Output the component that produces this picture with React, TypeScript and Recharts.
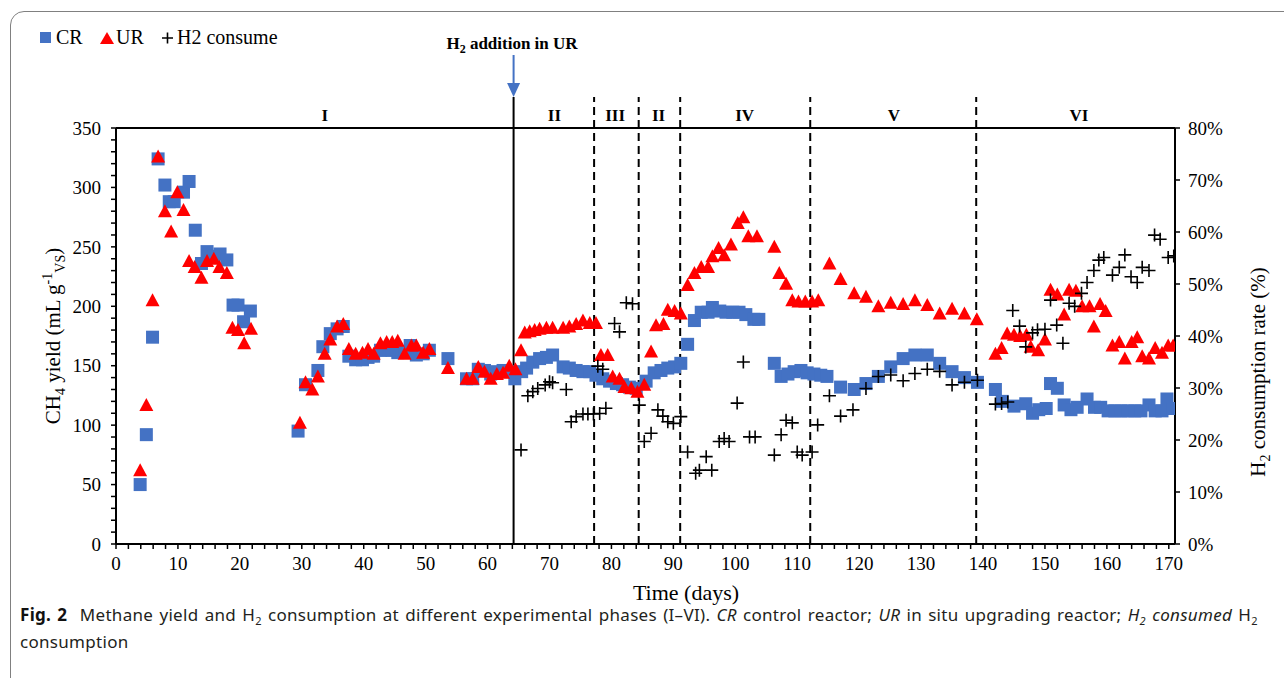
import { ScatterChart, Scatter, XAxis, YAxis, ReferenceLine } from 'recharts';

// CR control reactor: day / methane yield (mL g-1 VS)
const crDays = [3.9, 4.9, 5.9, 6.8, 7.9, 8.6, 9.4, 10.9, 11.8, 12.8, 13.8, 14.7, 15.8, 16.8, 17.9, 18.9, 19.7, 20.6, 21.7,
  29.4, 30.6, 32.6, 33.4, 34.6, 35.7, 36.7, 37.6, 38.7, 39.8, 40.7, 41.6, 42.7, 43.7, 44.6, 45.5, 46.6, 47.5, 48.5, 49.6, 50.6, 53.6,
  56.6, 57.6, 58.5, 59.5, 60.5, 61.6, 62.5, 63.4, 64.4, 65.5, 66.3, 67.3, 68.4, 69.5, 70.5, 72.2, 73.2, 74.3, 75.4, 76.5, 77.5,
  78.6, 79.7, 80.8, 81.8, 82.9, 84.0, 85.6, 86.9, 88.0, 89.1, 90.2, 91.2, 92.3, 93.4, 94.5, 95.6, 96.3, 97.5, 98.5, 99.6, 100.6,
  101.7, 103.0, 103.8, 106.3, 107.4, 108.5, 109.5, 110.6, 111.6, 112.7, 113.8, 114.8, 117.0, 119.2, 121.1, 123.1, 125.1, 127.1,
  129.0, 131.0, 133.0, 135.0, 137.0, 139.1, 142.0, 143.1, 145.0, 146.9, 148.0, 149.0, 150.2, 150.9, 152.0, 153.1, 154.2, 155.2,
  156.8, 158.0, 159.0, 160.2, 161.3, 162.3, 163.4, 164.5, 165.5, 166.8, 167.8, 168.9, 169.7, 170.6];
const crYield = [50, 92, 174, 324, 302, 288, 288, 296, 305, 264, 236, 246, 242, 244, 239, 201, 201, 187, 196,
  95, 134, 146, 166, 177, 181, 183, 158, 155, 155, 157, 158, 163, 163, 163, 161, 162, 167, 159, 160, 163, 156,
  139, 139, 147, 146, 143, 145, 146, 145, 139, 145, 148, 153, 156, 157, 159, 149, 148, 146, 145, 145, 142,
  139, 137, 135, 134, 132, 131, 137, 144, 146, 148, 149, 152, 168, 188, 195, 195, 199, 196, 195, 195, 195,
  193, 189, 189, 152, 141, 143, 145, 146, 144, 143, 142, 141, 132, 130, 135, 141, 149, 156,
  159, 159, 152, 145, 140, 136, 130, 120, 116, 118, 110, 113, 114, 135, 131, 117, 113, 115,
  122, 115, 115, 112, 112, 112, 112, 112, 112, 117, 112, 112, 122, 114];

// UR in situ upgrading reactor: day / methane yield
const urDays = [3.9, 4.9, 5.9, 6.8, 7.9, 8.9, 9.9, 10.9, 11.8, 12.7, 13.8, 14.7, 15.8, 16.7, 17.9, 18.8, 19.7, 20.7, 21.8,
  29.7, 30.6, 31.7, 32.6, 33.7, 34.6, 35.7, 36.7, 37.6, 38.7, 39.8, 40.7, 41.6, 42.7, 43.7, 44.6, 45.5, 46.6, 47.7, 48.5, 49.6, 50.6,
  53.6, 56.6, 57.6, 58.5, 59.5, 60.5, 61.5, 62.5, 63.5, 64.5, 65.4, 66.0, 66.8, 67.6, 68.4, 69.5, 70.5, 72.2, 73.2, 74.3, 75.4,
  76.5, 77.5, 78.3, 79.4, 80.2, 81.3, 82.1, 83.2, 84.2, 85.3, 86.4, 87.2, 88.4, 89.1, 90.2, 91.2, 92.3, 93.4, 94.5, 95.6, 96.3,
  97.3, 98.2, 99.3, 100.4, 101.3, 102.1, 103.5, 106.3, 107.1, 108.2, 109.2, 110.2, 111.3, 112.4, 113.4, 115.2, 117.0, 119.2,
  121.1, 123.1, 125.1, 127.1, 129.0, 131.0, 133.0, 135.0, 137.0, 139.0, 142.0, 143.0, 143.9, 145.0, 146.0, 147.0, 147.7, 148.9,
  150.0, 150.9, 152.0, 153.1, 153.9, 155.0, 156.0, 157.2, 157.9, 158.9, 159.8, 160.9, 162.0, 162.9, 164.0, 164.9, 165.7, 166.8,
  167.8, 168.9, 169.9, 170.7];
const urYield = [62, 117, 205, 326, 280, 263, 296, 281, 238, 233, 224, 238, 240, 233, 228, 182, 180, 169, 181,
  102, 136, 130, 141, 160, 172, 183, 185, 164, 160, 161, 164, 160, 169, 170, 170, 171, 160, 167, 167, 161, 164,
  148, 139, 139, 149, 145, 139, 143, 144, 150, 147, 163, 178, 179, 180, 181, 182, 182, 182, 183, 185, 188,
  186, 186, 159, 159, 141, 139, 132, 131, 128, 134, 162, 184, 185, 197, 196, 194, 218, 228, 233, 233, 242,
  249, 243, 252, 270, 275, 259, 259, 250, 228, 219, 205, 204, 204, 204, 205, 236, 223, 211,
  208, 200, 203, 202, 205, 201, 194, 198, 194, 189, 160, 165, 177, 176, 175, 176, 166, 163,
  172, 214, 210, 193, 214, 213, 200, 200, 183, 202, 196, 167, 170, 156, 170, 174, 158, 156,
  165, 161, 167, 167];

// H2 consume: day / consumption rate (%)
const h2Days = [65.4, 66.5, 67.3, 68.1, 69.3, 70.0, 70.5, 72.7, 73.5, 74.3, 75.4, 76.2, 77.1, 77.8, 78.1, 78.6, 79.1,
  80.5, 81.3, 82.4, 83.4, 84.5, 85.3, 86.4, 87.5, 88.3, 89.1, 90.0, 91.2, 92.3, 93.6, 94.2, 95.3, 96.2, 97.4, 98.2, 99.0,
  100.3, 101.3, 102.3, 103.2, 106.3, 107.4, 108.2, 109.2, 110.0, 110.8, 112.4, 113.3, 115.2, 117.0, 119.0, 121.1, 123.1,
  125.1, 127.1, 129.0, 131.0, 133.0, 135.0, 137.0, 139.1, 142.0, 143.0, 144.0, 144.8, 145.9, 146.9, 148.0, 148.8, 150.0,
  150.9, 151.9, 152.9, 153.9, 154.8, 155.9, 156.8, 157.9, 158.7, 159.5, 160.9, 162.0, 162.9, 163.9, 164.9, 165.7, 166.8,
  167.7, 168.6, 169.9, 170.8];
const h2Rate = [18.1, 28.5, 29.3, 29.9, 30.6, 31.2, 31.0, 29.7, 23.5, 24.5, 25.0, 25.0, 25.0, 34.2, 25.1, 33.6, 26.1,
  42.4, 40.8, 46.4, 46.2, 26.7, 19.7, 21.3, 25.8, 24.6, 23.5, 23.2, 24.5, 17.7, 13.6, 14.2, 16.8, 14.2, 19.7, 20.3, 19.7,
  27.1, 35.0, 20.6, 20.6, 17.1, 21.0, 23.8, 23.3, 17.7, 17.1, 17.7, 22.9, 28.5, 24.6, 25.8, 29.9, 32.2,
  32.5, 31.4, 32.8, 33.6, 33.2, 30.6, 31.1, 31.5, 26.9, 27.0, 27.3, 44.9, 41.9, 37.9, 40.6, 41.2, 41.3,
  46.9, 42.1, 38.6, 46.3, 45.7, 48.2, 50.3, 52.6, 54.6, 55.1, 51.7, 53.2, 55.6, 51.4, 50.3, 53.2, 52.6,
  59.4, 58.6, 55.1, 55.4];

// phase boundaries (days) and phase labels
const phaseLines = [64.2, 77.2, 84.4, 91.1, 112.1, 138.9];
const phaseNames = ['I', 'II', 'III', 'II', 'IV', 'V', 'VI'];
const phaseCenters = [33.7, 70.8, 80.6, 87.6, 101.5, 125.6, 155.5];

const xTicks = Array.from({ length: 86 }, (_, i) => i * 2);
const yTicks = Array.from({ length: 36 }, (_, i) => i * 10);
const rTicks = [0, 10, 20, 30, 40, 50, 60, 70, 80];

const crData = crDays.map((d, i) => ({ x: d, y: crYield[i] }));
const urData = urDays.map((d, i) => ({ x: d, y: urYield[i] }));
const h2Data = h2Days.map((d, i) => ({ x: d, y: h2Rate[i] }));

const PLOT_L = 116;
const PLOT_R = 1175;
const X_MAX = 171;
const xPx = (d: number) => PLOT_L + (d * (PLOT_R - PLOT_L)) / X_MAX;

const SERIF = '"Liberation Serif", "Times New Roman", serif';
const tickStyle = { fill: '#000', fontSize: 19, fontFamily: SERIF };

const Square = (p: any) => <rect x={p.cx - 6.5} y={p.cy - 6.5} width={13} height={13} fill="#4472C4" />;
const Triangle = (p: any) => (
  <polygon points={`${p.cx},${p.cy - 7} ${p.cx + 7},${p.cy + 6} ${p.cx - 7},${p.cy + 6}`} fill="#FF0000" />
);
const Plus = (p: any) => (
  <path d={`M${p.cx - 6.5},${p.cy}H${p.cx + 6.5}M${p.cx},${p.cy - 6.5}V${p.cy + 6.5}`} stroke="#000" strokeWidth={1.6} />
);

const subStyle = { fontSize: 11, lineHeight: 0 };

export default function App() {
  return (
    <div style={{ position: 'absolute', left: 0, top: 0, width: 1284, height: 678, background: '#fff', overflow: 'hidden' }}>
      <div
        style={{
          position: 'absolute', left: 10, top: 11, width: 1300, height: 720,
          border: '1.3px solid #808080', borderRadius: 14, boxSizing: 'border-box',
        }}
      />
      <div style={{ position: 'absolute', left: 0, top: 0 }}>
        <ScatterChart width={1284} height={600} margin={{ top: 128, right: 0, bottom: 0, left: 0 }}>
          <XAxis
            type="number"
            dataKey="x"
            domain={[0, X_MAX]}
            ticks={xTicks}
            interval={0}
            tickFormatter={(v: number) => (v % 10 === 0 ? String(v) : '')}
            tickSize={5}
            tickMargin={8}
            height={56}
            tick={tickStyle}
            tickLine={{ stroke: '#000', strokeWidth: 1.5 }}
            axisLine={{ stroke: '#000', strokeWidth: 2 }}
            allowDataOverflow
          />
          <YAxis
            yAxisId="left"
            type="number"
            dataKey="y"
            domain={[0, 350]}
            ticks={yTicks}
            interval={0}
            tickFormatter={(v: number) => (v % 50 === 0 ? String(v) : '')}
            width={116}
            tickSize={5}
            tickMargin={10}
            tick={tickStyle}
            tickLine={{ stroke: '#000', strokeWidth: 1.5 }}
            axisLine={{ stroke: '#000', strokeWidth: 2 }}
          />
          <YAxis
            yAxisId="right"
            orientation="right"
            type="number"
            dataKey="y"
            domain={[0, 80]}
            ticks={rTicks}
            interval={0}
            tickFormatter={(v: number) => `${v}%`}
            width={109}
            tickSize={5}
            tickMargin={8}
            tick={tickStyle}
            tickLine={{ stroke: '#000', strokeWidth: 1.5 }}
            axisLine={{ stroke: '#000', strokeWidth: 2 }}
          />
          <ReferenceLine yAxisId="left" y={350} stroke="#000" strokeWidth={2} />
          {phaseLines.map((d, i) => (
            <ReferenceLine
              key={`pl-${i}`}
              yAxisId="left"
              segment={[{ x: d, y: 0 }, { x: d, y: 376 }]}
              ifOverflow="visible"
              stroke="#000"
              strokeWidth={2}
              strokeDasharray={i === 0 ? undefined : '8 5'}
            />
          ))}
          <Scatter name="CR" data={crData} yAxisId="left" shape={Square} isAnimationActive={false} />
          <Scatter name="UR" data={urData} yAxisId="left" shape={Triangle} isAnimationActive={false} />
          <Scatter name="H2 consume" data={h2Data} yAxisId="right" shape={Plus} isAnimationActive={false} />
        </ScatterChart>
      </div>
      <svg
        width={1284}
        height={678}
        style={{ position: 'absolute', left: 0, top: 0, pointerEvents: 'none' }}
        fontFamily={SERIF}
      >
        {/* legend */}
        <rect x={40} y={32} width={11} height={11} fill="#4472C4" />
        <text x={56} y={44} fontSize={20}>CR</text>
        <polygon points="107,32 114,44 100,44" fill="#FF0000" />
        <text x={116} y={44} fontSize={20}>UR</text>
        <path d="M162,38H173M167.5,32.5V43.5" stroke="#000" strokeWidth={1.6} />
        <text x={177} y={44} fontSize={20}>H2 consume</text>

        {/* H2 addition arrow */}
        <text x={512} y={49} fontSize={17} fontWeight="bold" textAnchor="middle">
          H<tspan dy={4} fontSize={12}>2</tspan><tspan dy={-4}> addition in UR</tspan>
        </text>
        <line x1={xPx(phaseLines[0])} y1={55} x2={xPx(phaseLines[0])} y2={84} stroke="#4472C4" strokeWidth={2} />
        <polygon
          points={`${xPx(phaseLines[0]) - 6.5},${83} ${xPx(phaseLines[0]) + 6.5},${83} ${xPx(phaseLines[0])},${97}`}
          fill="#4472C4"
        />

        {/* phase labels */}
        {phaseNames.map((n, i) => (
          <text key={`pn-${i}`} x={xPx(phaseCenters[i])} y={121} fontSize={17} fontWeight="bold" textAnchor="middle">
            {n}
          </text>
        ))}

        {/* axis titles */}
        <text x={686} y={600} fontSize={22} textAnchor="middle">Time (days)</text>
        <text x={0} y={0} fontSize={21} textAnchor="middle" transform="translate(60,336) rotate(-90)">
          CH<tspan dy={5} fontSize={14}>4</tspan>
          <tspan dy={-5}> yield (mL g</tspan>
          <tspan dy={-8} fontSize={14}>-1</tspan>
          <tspan dy={13} fontSize={14}>VS</tspan>
          <tspan dy={-5}>)</tspan>
        </text>
        <text x={0} y={0} fontSize={21} textAnchor="middle" transform="translate(1265,372) rotate(-90)">
          H<tspan dy={5} fontSize={14}>2</tspan>
          <tspan dy={-5}> consumption rate (%)</tspan>
        </text>
      </svg>
      <div
        style={{
          position: 'absolute', left: 20, top: 607, width: 1262,
          fontFamily: '"Noto Sans", sans-serif', fontSize: 17, lineHeight: '16px', color: '#231f20',
          letterSpacing: '0.3px',
        }}
      >
        <div style={{ whiteSpace: 'nowrap', wordSpacing: '1.5px' }}>
          <b style={{ color: '#111' }}>Fig. 2</b>&nbsp; Methane yield and H<sub style={subStyle}>2</sub> consumption at
          different experimental phases (I–VI). <i>CR</i> control reactor; <i>UR</i> in situ upgrading reactor;{' '}
          <i>H<sub style={subStyle}>2</sub> consumed</i> H<sub style={subStyle}>2</sub>
        </div>
        <div style={{ marginTop: 11 }}>consumption</div>
      </div>
    </div>
  );
}
